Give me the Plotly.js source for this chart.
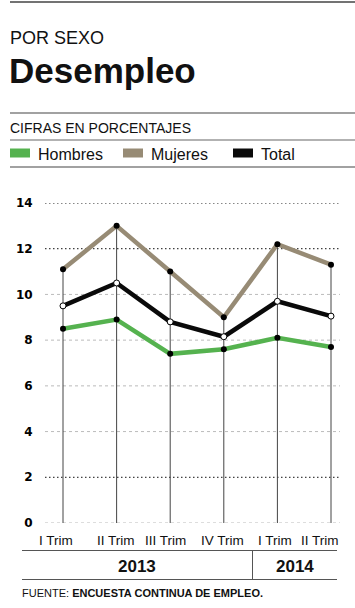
<!DOCTYPE html>
<html>
<head>
<meta charset="utf-8">
<script src="https://cdn.plot.ly/plotly-3.0.1.min.js"></script>
<style>html,body{margin:0;padding:0;background:#fff;}#chart{width:355px;height:608px;}</style>
</head>
<body>
<div id="chart"></div>
<script>
// ---- data ----
const quarters = ['I Trim', 'II Trim', 'III Trim', 'IV Trim', 'I Trim', 'II Trim'];
const years = ['2013', '2014'];
const yearSpans = [4, 2];
const hombres = [8.5, 8.9, 7.4, 7.6, 8.1, 7.7];
const mujeres = [11.1, 13.0, 11.0, 9.0, 12.2, 11.3];
const total = [9.5, 10.5, 8.8, 8.15, 9.7, 9.05];
const yTicks = [0, 2, 4, 6, 8, 10, 12, 14];
const darkGrid = [2, 12, 14];

// ---- layout helpers ----
const W = 355, H = 608, L = 45, R = 340, T = 203, B = 523;
const px = x => (x - L) / (R - L);
const py = y => (B - y) / (B - T);
const FONT = 'Liberation Sans, Arial, sans-serif';
const xIdx = quarters.map((_, i) => i);

const traces = [];
// drop lines from top value to zero
const dx = [], dy = [];
xIdx.forEach(i => { dx.push(i, i, null); dy.push(0, Math.max(mujeres[i], hombres[i], total[i]), null); });
traces.push({x: dx, y: dy, mode: 'lines', line: {color: '#444', width: 1}, hoverinfo: 'skip', showlegend: false, cliponaxis: false});
traces.push({x: xIdx, y: mujeres, mode: 'lines+markers', name: 'Mujeres',
  line: {color: '#978b75', width: 4.5}, marker: {color: '#000', size: 6}, cliponaxis: false});
traces.push({x: xIdx, y: total, mode: 'lines+markers', name: 'Total',
  line: {color: '#0a0a0a', width: 4.5}, marker: {color: '#fff', size: 6, line: {color: '#000', width: 1}}, cliponaxis: false});
traces.push({x: xIdx, y: hombres, mode: 'lines+markers', name: 'Hombres',
  line: {color: '#55b24f', width: 4.5}, marker: {color: '#000', size: 6}, cliponaxis: false});

const shapes = [];
// gridlines
yTicks.forEach(v => {
  const dark = darkGrid.includes(v);
  shapes.push({type: 'line', xref: 'paper', yref: 'y', x0: 0, x1: 1, y0: v, y1: v, layer: 'below',
    line: {color: dark ? '#111' : '#bbb', width: 1, dash: dark ? '1.5px,2.5px' : '3px,3px'}});
});
function hline(y, x0, x1, color, width) {
  shapes.push({type: 'line', xref: 'paper', yref: 'paper', x0: px(x0), x1: px(x1), y0: py(y), y1: py(y), line: {color, width}});
}
hline(2, 10, 355, '#444', 1.5);
hline(113, 10, 355, '#444', 1.2);
hline(140, 10, 355, '#999', 1.5);
hline(167, 10, 355, '#444', 1.2);
hline(550.5, 22, 337, '#555', 1);
hline(579.5, 22, 337, '#555', 1);
shapes.push({type: 'line', xref: 'paper', yref: 'paper', x0: px(252.5), x1: px(252.5), y0: py(550.5), y1: py(579.5), line: {color: '#555', width: 1}});

// legend swatches
const legend = [
  {label: 'Hombres', color: '#55b24f', x: 10},
  {label: 'Mujeres', color: '#978b75', x: 123},
  {label: 'Total', color: '#0a0a0a', x: 233}
];
const annotations = [];
legend.forEach(l => {
  shapes.push({type: 'rect', xref: 'paper', yref: 'paper', x0: px(l.x), x1: px(l.x + 20), y0: py(148.5), y1: py(157.5),
    fillcolor: l.color, line: {width: 0}});
  annotations.push({xref: 'paper', yref: 'paper', x: px(l.x + 26), y: py(154), xanchor: 'left', yanchor: 'middle',
    text: l.label, showarrow: false, font: {family: FONT, size: 16, color: '#111'}});
});

function txt(text, x, y, size, opts = {}) {
  annotations.push(Object.assign({xref: 'paper', yref: 'paper', x: px(x), y: py(y), xanchor: 'left', yanchor: 'middle',
    text, showarrow: false, font: {family: FONT, size, color: '#111'}}, opts));
}
txt('POR SEXO', 8, 38, 18);
txt('<b>Desempleo</b>', 7, 71, 35);
txt('CIFRAS EN PORCENTAJES', 8, 128, 14);
txt('FUENTE: <b>ENCUESTA CONTINUA DE EMPLEO.</b>', 20, 593, 11);

// quarter labels
const labelShift = [-7, -1, -5, -1, -2, -11];
quarters.forEach((q, i) => {
  annotations.push({xref: 'x', yref: 'paper', x: i, y: py(540), xshift: labelShift[i], xanchor: 'center', yanchor: 'middle',
    text: q, showarrow: false, font: {family: FONT, size: 13.5, color: '#111'}});
});
// year labels
const yearEdges = [22, 252.5, 337];
years.forEach((yr, k) => {
  const cx = (yearEdges[k] + yearEdges[k + 1]) / 2;
  txt('<b>' + yr + '</b>', cx, 566, 17, {xanchor: 'center'});
});

const layout = {
  width: W, height: H,
  margin: {l: L, r: W - R, t: T, b: H - B, pad: 0},
  paper_bgcolor: '#fff', plot_bgcolor: '#fff',
  showlegend: false,
  xaxis: {range: [-0.336, 5.168], showgrid: false, zeroline: false, showticklabels: false, showline: false, fixedrange: true},
  yaxis: {range: [0, 14], tickvals: yTicks, showgrid: false, zeroline: false, showline: false,
    ticks: 'outside', ticklen: 9, tickcolor: 'rgba(0,0,0,0)',
    tickfont: {family: 'DejaVu Sans', size: 12, color: '#000', weight: 700}, fixedrange: true},
  shapes, annotations
};
Plotly.newPlot('chart', traces, layout, {staticPlot: true, displayModeBar: false});
</script>
</body>
</html>
